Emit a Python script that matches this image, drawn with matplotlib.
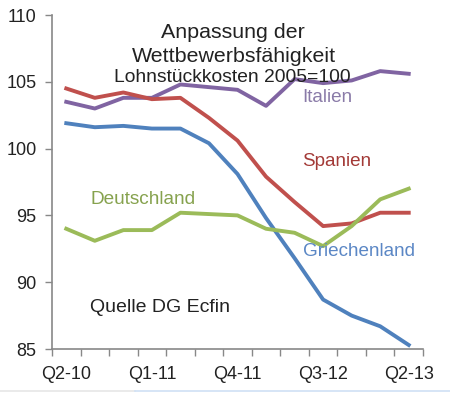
import matplotlib
matplotlib.use("Agg")
import matplotlib.pyplot as plt
from matplotlib.ticker import FixedLocator, NullFormatter
from matplotlib.lines import Line2D

quarters = ["Q2-10", "Q3-10", "Q4-10", "Q1-11", "Q2-11", "Q3-11", "Q4-11",
            "Q1-12", "Q2-12", "Q3-12", "Q4-12", "Q1-13", "Q2-13"]
tick_labels = ["Q2-10", "Q1-11", "Q4-11", "Q3-12", "Q2-13"]

deutschland = [94.0, 93.1, 93.9, 93.9, 95.2, 95.1, 95.0, 94.0, 93.7, 92.7, 94.2, 96.2, 97.0]
spanien = [104.5, 103.8, 104.2, 103.7, 103.8, 102.3, 100.6, 97.9, 96.0, 94.2, 94.4, 95.2, 95.2]
griechenland = [101.9, 101.6, 101.7, 101.5, 101.5, 100.4, 98.1, 94.8, 91.8, 88.7, 87.5, 86.7, 85.3]
italien = [103.5, 103.0, 103.8, 103.8, 104.8, 104.6, 104.4, 103.2, 105.2, 104.9, 105.1, 105.8, 105.6]

c_blue = "#4F81BD"
c_red = "#C0504D"
c_green = "#9BBB59"
c_purple = "#8064A2"

plt.rcParams['font.family'] = ['Liberation Sans', 'DejaVu Sans']

fig = plt.figure(figsize=(4.5, 3.93), dpi=100)
ax = fig.add_axes([52/450, (393-349)/393, (423-52)/450, (349-15)/393])

x = list(range(len(quarters)))
lw = 2.8
ax.plot(x, italien, color=c_purple, lw=lw, solid_joinstyle="round")
ax.plot(x, spanien, color=c_red, lw=lw, solid_joinstyle="round")
ax.plot(x, griechenland, color=c_blue, lw=lw, solid_joinstyle="round")
ax.plot(x, deutschland, color=c_green, lw=lw, solid_joinstyle="round")

ax.set_xlim(-0.5, len(quarters) - 0.5)
ax.set_ylim(85, 110)
ax.set_yticks([85, 90, 95, 100, 105, 110])

label_pos = [quarters.index(t) for t in tick_labels]
ax.set_xticks(label_pos)
ax.set_xticklabels(tick_labels)
ax.xaxis.set_minor_locator(FixedLocator([i - 0.5 for i in range(len(quarters) + 1)]))
ax.xaxis.set_minor_formatter(NullFormatter())
ax.tick_params(axis="x", which="major", length=0, pad=12, labelsize=13, colors="#222222")
ax.tick_params(axis="x", which="minor", length=5, width=1, color="#888888")
ax.tick_params(axis="y", which="major", length=5, width=1, color="#888888",
               labelsize=13, labelcolor="#222222", pad=6)

for s in ["top", "right"]:
    ax.spines[s].set_visible(False)
for s in ["left", "bottom"]:
    ax.spines[s].set_color("#888888")
    ax.spines[s].set_linewidth(1.2)

def px(xp, yp):
    return (xp / 450, 1 - yp / 393)

fig.text(*px(233, 32), "Anpassung der", ha="center", va="center", fontsize=15.4, color="#222222")
fig.text(*px(234, 56), "Wettbewerbsfähigkeit", ha="center", va="center", fontsize=15.4, color="#222222")
fig.text(*px(232, 78), "Lohnstückkosten 2005=100", ha="center", va="center", fontsize=13.9, color="#222222")
fig.text(*px(327, 97), "Italien", ha="center", va="center", fontsize=13.6, color="#8A7BA8")
fig.text(*px(337, 162), "Spanien", ha="center", va="center", fontsize=13.6, color="#A33A37")
fig.text(*px(143, 200), "Deutschland", ha="center", va="center", fontsize=13.7, color="#86A24E")
fig.text(*px(359, 251), "Griechenland", ha="center", va="center", fontsize=13.6, color="#5B87C5")
fig.text(*px(160, 307), "Quelle DG Ecfin", ha="center", va="center", fontsize=14, color="#222222")

fig.add_artist(Line2D([0, 135/450], [2/393, 2/393], color="#e6e6e6", lw=1.2, transform=fig.transFigure))
fig.add_artist(Line2D([135/450, 1], [2/393, 2/393], color="#cfe0f5", lw=1.2, transform=fig.transFigure))

fig.savefig("out.png", dpi=100, facecolor="white")
